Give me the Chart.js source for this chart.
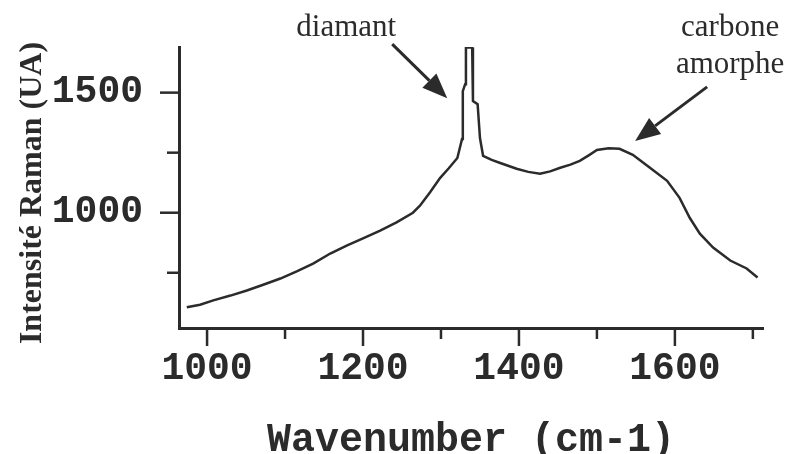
<!DOCTYPE html>
<html>
<head>
<meta charset="utf-8">
<script src="https://cdn.jsdelivr.net/npm/chart.js@4.4.0/dist/chart.umd.min.js"></script>
<style>
  html, body { margin: 0; padding: 0; background: #fff; }
  #wrap { width: 788px; height: 454px; }
</style>
</head>
<body>
<div id="wrap"><canvas id="ramanChart" width="788" height="454"></canvas></div>
<script>
// Raman spectrum
const wavenumbers = [974, 991, 1008, 1030, 1051, 1072, 1094, 1115, 1136, 1158, 1179, 1200, 1222, 1243, 1264, 1273, 1286, 1299, 1310, 1321, 1327, 1328, 1331, 1332, 1340, 1341, 1347, 1350, 1354, 1365, 1376, 1397, 1412, 1427, 1440, 1453, 1466, 1478, 1490, 1500, 1515, 1529, 1546, 1568, 1590, 1606, 1619, 1632, 1649, 1671, 1692, 1706];
const intensity   = [606, 617, 635, 655, 676, 700, 726, 756, 788, 830, 863, 893, 925, 960, 1000, 1029, 1085, 1145, 1185, 1228, 1307, 1506, 1535, 1688, 1688, 1465, 1452, 1311, 1237, 1220, 1207, 1183, 1170, 1162, 1172, 1187, 1200, 1216, 1240, 1261, 1268, 1266, 1241, 1187, 1133, 1062, 979, 913, 855, 801, 768, 730];

const xMajorTicks = [1000, 1200, 1400, 1600];
const xMinorTicks = [1100, 1300, 1500, 1700];
const yMajorTicks = [1000, 1500];
const yMinorTicks = [750, 1250];

const annotations = [
    { lines: ['diamant'], tip: [1308, 1477] },
    { lines: ['carbone', 'amorphe'], tip: [1549, 1299] }
];

const ink = '#2b2b2b';

// tick marks, titles and arrows drawn by hand
const decorations = {
    id: 'decorations',
    afterDraw(chart) {
        const { ctx, chartArea: area, scales: { x, y } } = chart;
        ctx.save();
        ctx.strokeStyle = ink;
        ctx.fillStyle = ink;
        ctx.lineWidth = 2.5;
        ctx.lineCap = 'butt';

        const tickX = (v, len) => {
            const px = x.getPixelForValue(v);
            ctx.beginPath(); ctx.moveTo(px, area.bottom); ctx.lineTo(px, area.bottom + len); ctx.stroke();
        };
        const tickY = (v, len) => {
            const py = y.getPixelForValue(v);
            ctx.beginPath(); ctx.moveTo(area.left, py); ctx.lineTo(area.left - len, py); ctx.stroke();
        };
        xMajorTicks.forEach(v => tickX(v, 18));
        xMinorTicks.forEach(v => tickX(v, 11));
        yMajorTicks.forEach(v => tickY(v, 19));
        yMinorTicks.forEach(v => tickY(v, 12));

        // axis titles
        ctx.font = 'bold 40px "Liberation Mono", "Courier New", monospace';
        ctx.textAlign = 'center';
        ctx.textBaseline = 'alphabetic';
        ctx.fillText('Wavenumber (cm-1)', (area.left + area.right) / 2, 451);

        ctx.save();
        ctx.translate(41, 193);
        ctx.rotate(-Math.PI / 2);
        ctx.font = 'bold 32px "Liberation Serif", "Times New Roman", serif';
        ctx.fillText('Intensité Raman (UA)', 0, 0);
        ctx.restore();

        // annotations with arrows
        ctx.font = '31px "Liberation Serif", "Times New Roman", serif';
        const drawArrow = (tx, ty, sx, sy) => {
            const ang = Math.atan2(ty - sy, tx - sx);
            const headLen = 25, headHalf = 10;
            const bx = tx - headLen * Math.cos(ang), by = ty - headLen * Math.sin(ang);
            ctx.lineWidth = 3;
            ctx.beginPath(); ctx.moveTo(sx, sy); ctx.lineTo(bx, by); ctx.stroke();
            ctx.beginPath();
            ctx.moveTo(tx, ty);
            ctx.lineTo(bx + headHalf * Math.sin(ang), by - headHalf * Math.cos(ang));
            ctx.lineTo(bx - headHalf * Math.sin(ang), by + headHalf * Math.cos(ang));
            ctx.closePath();
            ctx.fill();
        };

        const d = annotations[0];
        const dx = x.getPixelForValue(d.tip[0]), dy = y.getPixelForValue(d.tip[1]);
        ctx.fillText(d.lines[0], dx - 101, dy - 62);
        drawArrow(dx, dy, dx - 55, dy - 54);

        const c = annotations[1];
        const cx = x.getPixelForValue(c.tip[0]), cy = y.getPixelForValue(c.tip[1]);
        c.lines.forEach((t, i) => ctx.fillText(t, cx + 95, cy - 105 + i * 37));
        drawArrow(cx, cy, cx + 72, cy - 54);

        ctx.restore();
    }
};

new Chart(document.getElementById('ramanChart').getContext('2d'), {
    type: 'line',
    data: {
        datasets: [{
            data: wavenumbers.map((w, i) => ({ x: w, y: intensity[i] })),
            borderColor: ink,
            borderWidth: 2.5,
            pointRadius: 0,
            tension: 0,
            fill: false
        }]
    },
    options: {
        responsive: false,
        animation: false,
        devicePixelRatio: 1,
        layout: { padding: { top: 47, right: 25, left: 0, bottom: 0 } },
        plugins: { legend: { display: false }, tooltip: { enabled: false } },
        scales: {
            x: {
                type: 'linear',
                min: 964,
                max: 1713,
                afterBuildTicks: s => { s.ticks = xMajorTicks.map(v => ({ value: v })); },
                afterFit: s => { s.height = 126; s.paddingLeft = 0; s.paddingRight = 0; },
                grid: { display: false, drawTicks: false },
                border: { display: true, color: ink, width: 3 },
                ticks: {
                    color: ink,
                    padding: 19,
                    maxRotation: 0,
                    font: { family: '"Liberation Mono", "Courier New", monospace', size: 38, weight: 'bold' },
                    callback: v => String(v)
                }
            },
            y: {
                min: 520,
                max: 1690,
                afterBuildTicks: s => { s.ticks = yMajorTicks.map(v => ({ value: v })); },
                afterFit: s => { s.width = 179; s.paddingTop = 0; s.paddingBottom = 0; },
                grid: { display: false, drawTicks: false },
                border: { display: true, color: ink, width: 3 },
                ticks: {
                    color: ink,
                    padding: 36,
                    font: { family: '"Liberation Mono", "Courier New", monospace', size: 38, weight: 'bold' },
                    callback: v => String(v)
                }
            }
        }
    },
    plugins: [decorations]
});
</script>
</body>
</html>
